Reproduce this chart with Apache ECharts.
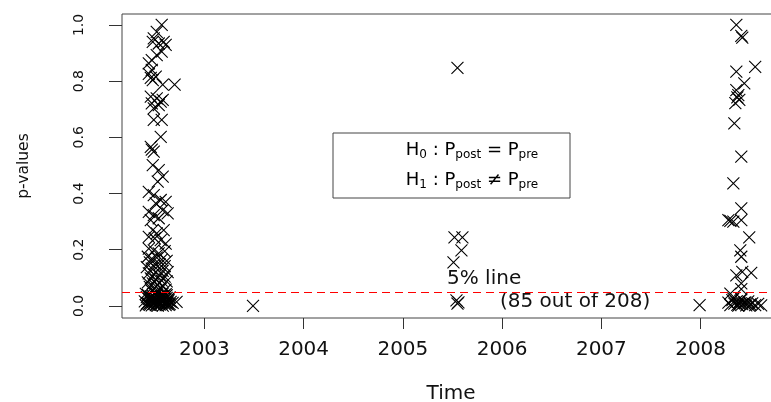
<!DOCTYPE html>
<html>
<head>
<meta charset="utf-8">
<script src="https://cdn.jsdelivr.net/npm/echarts@6/dist/echarts.min.js"></script>
<style>
  html, body { margin: 0; padding: 0; background: #fff; }
  #chart { width: 771px; height: 402px; }
</style>
</head>
<body>
<div id="chart"></div>
<script>
// tick labels
const yearTicks = [2003, 2004, 2005, 2006, 2007, 2008];
const pTicks = [0, 0.2, 0.4, 0.6, 0.8, 1.0];

// p-values per test: [time (decimal year), p-value]
const cluster2002 = [
  [2002.57,1.0],[2002.52,0.975],[2002.49,0.952],[2002.59,0.94],[2002.48,0.94],[2002.54,0.934],[2002.61,0.929],
  [2002.57,0.905],[2002.52,0.893],[2002.47,0.875],[2002.44,0.863],
  [2002.47,0.84],[2002.44,0.826],[2002.51,0.816],[2002.48,0.804],[2002.46,0.812],
  [2002.58,0.788],[2002.70,0.788],
  [2002.46,0.745],[2002.52,0.739],[2002.58,0.733],[2002.47,0.721],[2002.54,0.715],[2002.49,0.703],[2002.56,0.727],
  [2002.49,0.662],[2002.57,0.662],
  [2002.56,0.602],[2002.46,0.566],[2002.49,0.549],[2002.47,0.556],
  [2002.48,0.501],[2002.54,0.483],[2002.58,0.46],[2002.53,0.442],
  [2002.44,0.406],[2002.49,0.394],[2002.56,0.377],[2002.51,0.365],[2002.61,0.37],
  [2002.44,0.335],[2002.49,0.323],[2002.58,0.341],[2002.63,0.329],[2002.46,0.305],[2002.54,0.312],
  [2002.48,0.27],[2002.52,0.258],[2002.59,0.27],[2002.44,0.246],[2002.56,0.234],[2002.61,0.222],[2002.50,0.24],
  [2002.44,0.204],[2002.49,0.198],[2002.54,0.187],[2002.60,0.195],
  [2002.43,0.175],[2002.47,0.168],[2002.52,0.172],[2002.57,0.165],[2002.62,0.16],[2002.45,0.155],[2002.50,0.15],
  [2002.55,0.148],[2002.60,0.142],[2002.42,0.138],[2002.47,0.133],[2002.53,0.128],[2002.58,0.125],[2002.63,0.12],
  [2002.44,0.116],[2002.49,0.112],[2002.55,0.108],[2002.60,0.104],[2002.46,0.098],[2002.51,0.094],[2002.57,0.09],
  [2002.62,0.087],[2002.43,0.084],[2002.48,0.08],[2002.53,0.076],[2002.58,0.072],[2002.45,0.068],[2002.50,0.064],
  [2002.56,0.061],[2002.61,0.058],[2002.47,0.054],[2002.52,0.051],
  [2002.41,0.002],[2002.43,0.011],[2002.45,0.004],[2002.47,0.021],[2002.49,0.007],[2002.51,0.015],[2002.53,0.001],
  [2002.55,0.026],[2002.57,0.009],[2002.59,0.018],[2002.61,0.003],[2002.63,0.012],[2002.65,0.006],
  [2002.42,0.031],[2002.44,0.024],[2002.46,0.013],[2002.48,0.036],[2002.50,0.028],[2002.52,0.041],[2002.54,0.017],
  [2002.56,0.033],[2002.58,0.044],[2002.60,0.025],[2002.62,0.038],[2002.64,0.02],
  [2002.40,0.016],[2002.43,0.039],[2002.45,0.027],[2002.47,0.002],[2002.50,0.045],[2002.52,0.023],[2002.55,0.005],
  [2002.57,0.035],[2002.60,0.01],[2002.62,0.029],[2002.66,0.014],
  [2002.41,0.043],[2002.44,0.006],[2002.46,0.034],[2002.48,0.014],[2002.51,0.003],[2002.53,0.032],[2002.56,0.019],
  [2002.58,0.001],[2002.61,0.042],[2002.63,0.022],[2002.65,0.03],
  [2002.42,0.008],[2002.49,0.024],[2002.54,0.012],[2002.59,0.037],[2002.64,0.004],[2002.47,0.029],[2002.52,0.009],
  [2002.57,0.016],[2002.62,0.007],[2002.68,0.011],[2002.72,0.014],[2002.60,0.031]
];
const cluster2005 = [
  [2005.55,0.847],[2005.52,0.244],[2005.60,0.244],[2005.59,0.198],[2005.51,0.155],
  [2005.54,0.02],[2005.55,0.008],[2005.56,0.013]
];
const cluster2008 = [
  [2008.36,1.0],[2008.41,0.961],[2008.42,0.955],[2008.55,0.851],[2008.36,0.834],[2008.44,0.792],[2008.36,0.768],
  [2008.38,0.75],[2008.39,0.733],[2008.35,0.722],[2008.37,0.742],[2008.34,0.65],[2008.41,0.531],[2008.33,0.436],
  [2008.41,0.347],[2008.28,0.305],[2008.30,0.303],[2008.33,0.3],[2008.41,0.305],[2008.49,0.244],[2008.40,0.198],
  [2008.41,0.175],[2008.36,0.109],[2008.42,0.121],[2008.51,0.118],[2008.41,0.08],[2008.41,0.06],[2008.30,0.044],
  [2008.28,0.012],[2008.30,0.003],[2008.32,0.021],[2008.34,0.008],[2008.36,0.015],[2008.38,0.001],[2008.40,0.018],
  [2008.42,0.006],[2008.44,0.011],[2008.46,0.002],[2008.48,0.016],[2008.50,0.005],[2008.52,0.009],[2008.55,0.003],
  [2008.58,0.007],[2008.61,0.002],[2008.33,0.026],[2008.37,0.004],[2008.41,0.024],[2008.45,0.013],[2008.49,0.001],
  [2008.39,0.009]
];
const isolated = [[2003.49,0.0],[2007.99,0.003]];

const cutoff = 0.05;

const chart = echarts.init(document.getElementById('chart'));
const font = 'DejaVu Sans';
const sub = { fontSize: 12, fontFamily: font, color: '#111', lineHeight: 20, padding: [8, 0, 0, 0], verticalAlign: 'top' };
const main = { fontSize: 18, fontFamily: font, color: '#111', lineHeight: 20, verticalAlign: 'top' };
const redDash = { color: '#ff0000', type: [8, 5], width: 1, opacity: 1 };

chart.setOption({
  animation: false,
  grid: {
    left: 122, top: 14, right: -9, bottom: 84,
    outerBoundsMode: 'none', containLabel: false,
    show: true, borderColor: '#444', borderWidth: 1, backgroundColor: 'transparent'
  },
  xAxis: {
    type: 'value', min: 2002.17, max: 2008.8,
    name: 'Time', nameLocation: 'middle', nameGap: 66,
    nameTextStyle: { fontFamily: font, fontSize: 20, color: '#111' },
    axisLine: { show: false, onZero: false },
    splitLine: { show: false },
    axisTick: { show: true, length: 11, lineStyle: { color: '#333' }, customValues: yearTicks },
    axisLabel: { margin: 22, fontFamily: font, fontSize: 20, color: '#111', customValues: yearTicks, formatter: v => String(v) }
  },
  yAxis: {
    type: 'value', min: -0.043, max: 1.039,
    name: 'p-values', nameLocation: 'middle', nameGap: 90, nameRotate: 90,
    nameTextStyle: { fontFamily: font, fontSize: 15.5, color: '#111' },
    axisLine: { show: false, onZero: false },
    splitLine: { show: false },
    axisTick: { show: true, length: 13, lineStyle: { color: '#333' }, customValues: pTicks },
    axisLabel: {
      margin: 36, rotate: 90, fontFamily: font, fontSize: 14, color: '#111',
      customValues: pTicks, formatter: v => v.toFixed(1)
    }
  },
  series: [{
    type: 'scatter',
    data: [...cluster2002, ...isolated, ...cluster2005, ...cluster2008],
    symbol: 'path://M0,0L10,10M10,0L0,10',
    symbolSize: 12,
    itemStyle: { color: 'none', borderColor: '#000', borderWidth: 1.1, opacity: 1 },
    silent: true
  }, {
    type: 'line',
    data: [],
    silent: true,
    markLine: {
      silent: true, symbol: 'none', label: { show: false },
      lineStyle: redDash,
      data: [{ yAxis: cutoff, lineStyle: redDash }]
    }
  }],
  graphic: [
    { type: 'text', left: 447, top: 269, style: { text: '5% line', fontFamily: font, fontSize: 20, fill: '#111' } },
    { type: 'text', left: 500, top: 292, style: { text: '(85 out of 208)', fontFamily: font, fontSize: 20, fill: '#111' } },
    { type: 'rect', shape: { x: 333, y: 133, width: 237, height: 65 }, style: { fill: '#fff', stroke: '#444', lineWidth: 1 } },
    {
      type: 'text', x: 472, y: 141,
      style: {
        text: '{m|H}{s|0}{m| : P}{s|post}{m| = P}{s|pre}',
        align: 'center', rich: { m: main, s: sub }
      }
    },
    {
      type: 'text', x: 472, y: 171,
      style: {
        text: '{m|H}{s|1}{m| : P}{s|post}{m| \u2260 P}{s|pre}',
        align: 'center', rich: { m: main, s: sub }
      }
    }
  ]
});
</script>
</body>
</html>
